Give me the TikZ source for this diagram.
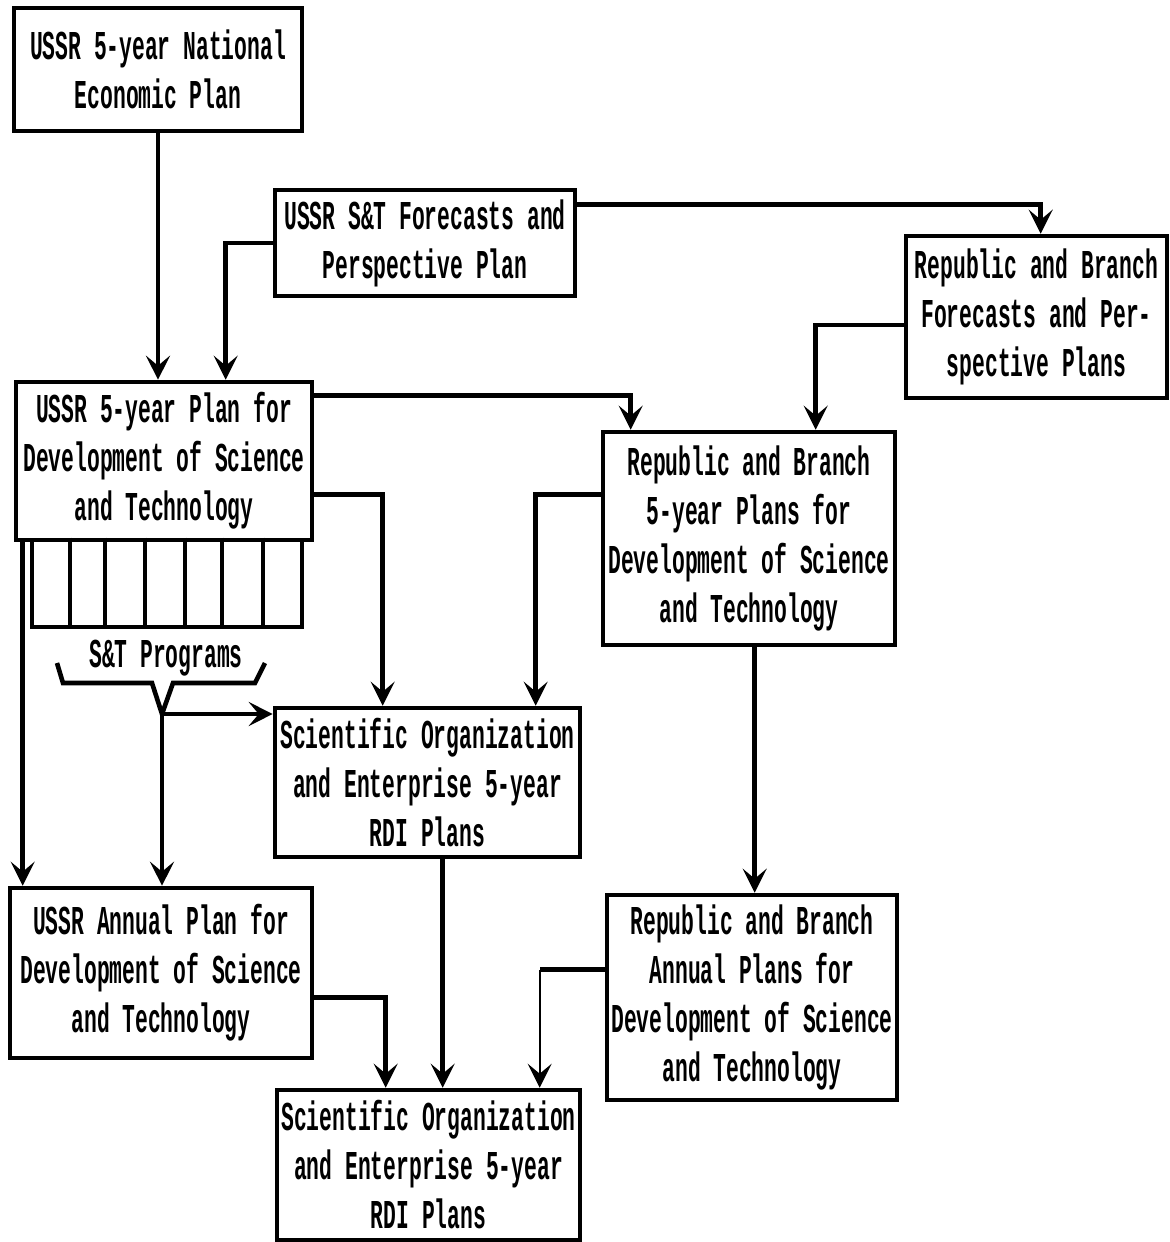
\documentclass[tikz,border=0pt]{standalone}
\usepackage{fontspec}
\newfontfamily\tw[FakeStretch=0.52]{Liberation Mono}
\usetikzlibrary{arrows.meta,calc}
\begin{document}
\begin{tikzpicture}[x=0.5pt,y=-0.5pt,
  line/.style={line width=2.3pt},
  arr/.style={line, -{Stealth[length=12pt,width=12pt,inset=5pt]}},
  thinarr/.style={line width=1pt, -{Stealth[length=12pt,width=12pt,inset=5pt]}},
  box/.style={draw, line width=2.3pt, inner sep=0pt, align=center,
    font=\tw\bfseries\fontsize{20.5}{24.5}\selectfont},
  lbl/.style={font=\tw\bfseries\fontsize{20.5}{24.5}\selectfont}]
\useasboundingbox (0,0) rectangle (1169,1242);
% boxes
\node[box, minimum width=144pt, minimum height=61.5pt] (A) at (158,69.5) {USSR 5-year National\\Economic Plan};
\node[box, minimum width=150pt, minimum height=53pt] (B) at (425,243) {USSR S\&T Forecasts and\\Perspective Plan};
\node[box, minimum width=130.5pt, minimum height=81pt] (C) at (1036.5,317) {Republic and Branch\\Forecasts and Per-\\spective Plans};
\node[box, minimum width=148pt, minimum height=79pt] (D) at (164,461) {USSR 5-year Plan for\\Development of Science\\and Technology};
\node[box, minimum width=135pt, minimum height=43.5pt] (P) at (167,583.5) {};
\node[box, minimum width=146pt, minimum height=106.5pt] (F) at (749,538.5) {Republic and Branch\\5-year Plans for\\Development of Science\\and Technology};
\node[box, minimum width=152.5pt, minimum height=74.5pt] (E) at (427.5,782.5) {Scientific Organization\\and Enterprise 5-year\\RDI Plans};
\node[box, minimum width=151pt, minimum height=85pt] (G) at (161,973) {USSR Annual Plan for\\Development of Science\\and Technology};
\node[box, minimum width=145pt, minimum height=102.5pt] (H) at (752,997.5) {Republic and Branch\\Annual Plans for\\Development of Science\\and Technology};
\node[box, minimum width=151.5pt, minimum height=75pt] (I) at (428.5,1165) {Scientific Organization\\and Enterprise 5-year\\RDI Plans};
% program strip dividers
\foreach \xx in {70,105,145,185,222,263} \draw[line] (P.north west -| \xx,0) -- (P.south west -| \xx,0);
% S&T Programs label and bracket
\node[lbl] (L) at (166,658) {S\&T Programs};
\coordinate (J) at (162,714);
\draw[line] (57,663) -- (63,683) -- (152,683) -- (J) -- (173,683) -- (255,683) -- (265,663);
% connectors
\draw[arr] (A.south) -- (A.south |- D.north);
\draw[arr] (B.west) -| ($(D.north west)+(212,0)$);
\draw[arr] ($(B.north east)+(0,17)$) -| ($(C.north west)+(137,0)$);
\draw[arr] ($(C.west)+(0,8)$) -| ($(F.north west)+(215,0)$);
\draw[arr] ($(D.north east)+(0,16)$) -| ($(F.north west)+(30,0)$);
\draw[arr] ($(D.north east)+(0,115)$) -| ($(E.north west)+(110,0)$);
\draw[arr] ($(F.north west)+(0,65)$) -| ($(E.north west)+(263,0)$);
\draw[arr] ($(F.south west)+(154,0)$) coordinate (f8) -- (f8 |- H.north);
\draw[arr] ($(D.south west)+(9,0)$) coordinate (d9) -- (d9 |- G.north);
\draw[arr] (J) -- (J -| E.west);
\draw[arr] (J) -- (J |- G.north);
\draw[arr] ($(G.north east)+(0,112)$) -| ($(I.north west)+(111,0)$);
\draw[arr] ($(E.south west)+(170,0)$) coordinate (e12) -- (e12 |- I.north);
\coordinate (h2) at ($(H.north west)+(-65,77)$);
\draw[line] ($(H.north west)+(0,77)$) -- (h2);
\draw[thinarr] (h2) -- (h2 |- I.north);
\end{tikzpicture}
\end{document}
